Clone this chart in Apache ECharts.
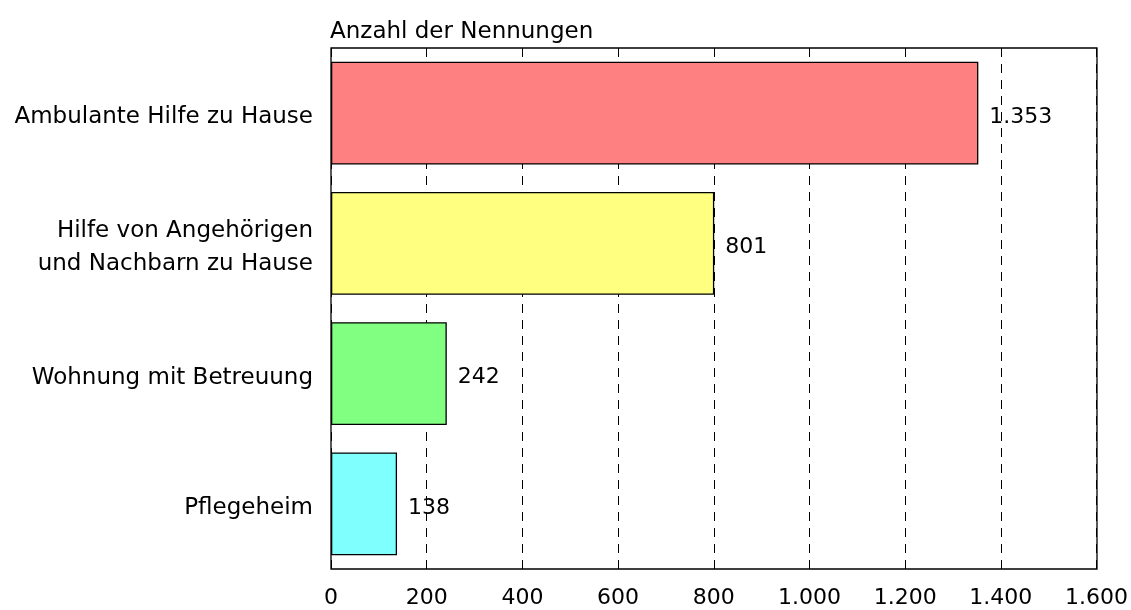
<!DOCTYPE html>
<html>
<head>
<meta charset="utf-8">
<script src="https://cdn.jsdelivr.net/npm/echarts@6/dist/echarts.min.js"></script>
<style>
html, body { margin: 0; padding: 0; background: #fff; }
#chart { width: 1131px; height: 610px; }
</style>
</head>
<body>
<div id="chart"></div>
<script>
var categories = ['Ambulante Hilfe zu Hause', 'Hilfe von Angehörigen\nund Nachbarn zu Hause', 'Wohnung mit Betreuung', 'Pflegeheim'];
var values = [1353, 801, 242, 138];
var colors = ['#FF8080', '#FFFF80', '#80FF80', '#80FFFF'];

var font = 'DejaVu Sans';
function fmt(v) {
    return String(v).replace(/\B(?=(\d{3})+(?!\d))/g, '.');
}

var dom = document.getElementById('chart');
var myChart = echarts.init(dom);
var option = {
    animation: false,
    title: {
        text: 'Anzahl der Nennungen',
        left: 330, top: 21, padding: 0,
        textStyle: { fontFamily: font, fontSize: 23, fontWeight: 'normal', color: '#000' }
    },
    grid: { left: 331, right: 34, top: 48, bottom: 41 },
    xAxis: {
        type: 'value',
        min: 0, max: 1600, interval: 200,
        axisLine: { show: false },
        axisTick: { show: false },
        axisLabel: { fontFamily: font, fontSize: 22, color: '#000', margin: 18, formatter: fmt },
        splitLine: { show: true, lineStyle: { color: '#000', type: [9, 7], width: 1 } }
    },
    yAxis: {
        type: 'category',
        inverse: true,
        data: categories,
        axisLine: { show: false },
        axisTick: { show: false },
        axisLabel: {
            margin: 18, align: 'right',
            formatter: function (v) {
                return v.split('\n').map(function (s) { return '{a|' + s + '}'; }).join('\n');
            },
            rich: { a: { fontFamily: font, fontSize: 23, color: '#000', lineHeight: 33, padding: [8, 0, 0, 0] } }
        }
    },
    series: [{
        type: 'bar',
        data: values.map(function (v, i) { return { value: v, itemStyle: { color: colors[i] } }; }),
        barWidth: '79%',
        itemStyle: { borderColor: '#000', borderWidth: 1.3 },
        label: { show: true, position: 'right', distance: 11, offset: [0, 4], fontFamily: font, fontSize: 22, color: '#000', formatter: function (p) { return fmt(p.value); } },
        z: 3
    }],
    graphic: [{
        type: 'rect',
        shape: { x: 331, y: 48, width: 766, height: 521 },
        style: { fill: 'none', stroke: '#000', lineWidth: 1.3 },
        z: 10
    }]
};
myChart.setOption(option);
</script>
</body>
</html>
